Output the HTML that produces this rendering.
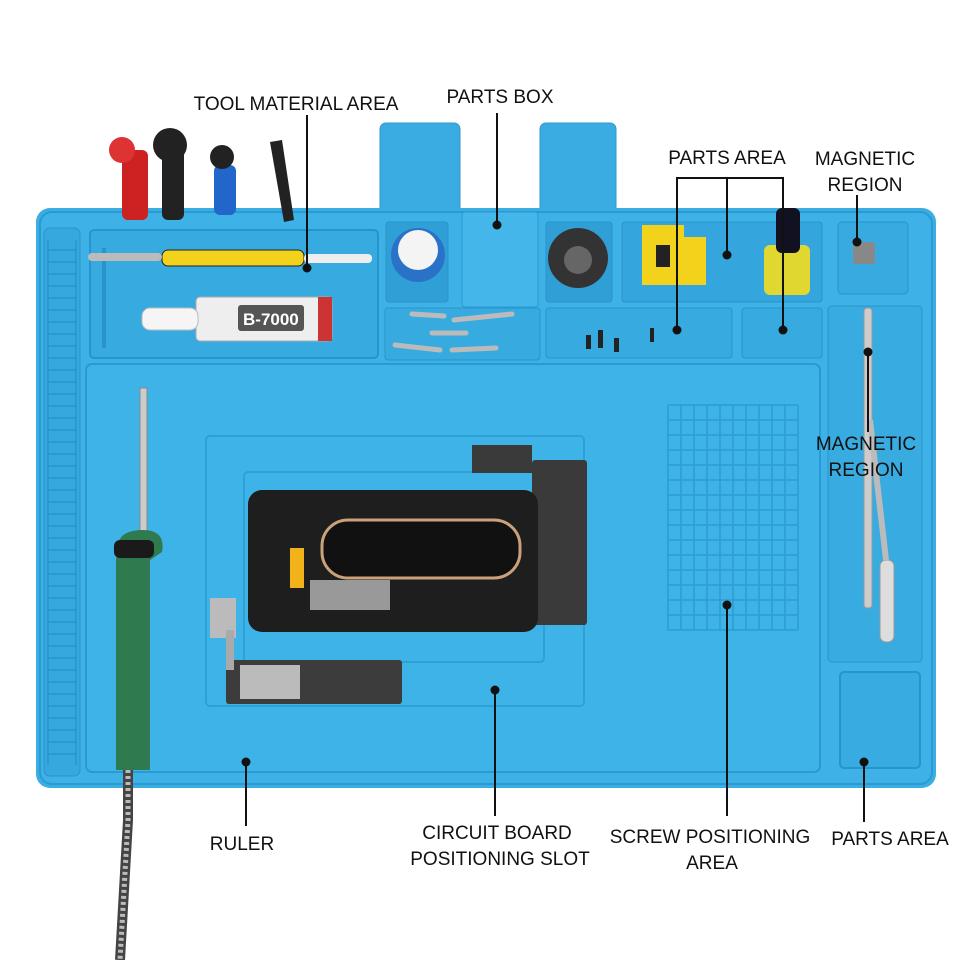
<!DOCTYPE html>
<html><head><meta charset="utf-8"><style>
html,body{margin:0;padding:0;background:#fff;}
svg{display:block;}
text{font-family:"Liberation Sans",sans-serif;font-size:19px;fill:#111;}
</style></head><body>
<svg width="960" height="960" viewBox="0 0 960 960" xmlns="http://www.w3.org/2000/svg">
<!-- parts box lids -->
<rect x="380" y="123" width="80" height="92" rx="6" fill="#3aace2" stroke="#2b98cf"/>
<rect x="540" y="123" width="76" height="92" rx="6" fill="#3aace2" stroke="#2b98cf"/>
<!-- mat -->
<rect x="36" y="208" width="900" height="580" rx="14" fill="#3aaee3"/>
<rect x="40" y="212" width="892" height="572" rx="12" fill="#3eb2e6" stroke="#2a9bd2" stroke-width="2"/>
<!-- ruler strip -->
<rect x="44" y="228" width="36" height="548" rx="6" fill="#36a8de" stroke="#2894cb"/>
<g stroke="#2894cb" stroke-width="1.5">
<line x1="48" y1="240" x2="48" y2="765"/><line x1="76" y1="240" x2="76" y2="765"/>
</g>
<g id="rl" stroke="#2894cb" stroke-width="1.5" fill="none">
<path d="M48 250h28M48 262h28M48 274h28M48 286h28M48 298h28M48 310h28M48 322h28M48 334h28M48 346h28M48 358h28M48 370h28M48 382h28M48 394h28M48 406h28M48 418h28M48 430h28M48 442h28M48 454h28M48 466h28M48 478h28M48 490h28M48 502h28M48 514h28M48 526h28M48 538h28M48 550h28M48 562h28M48 574h28M48 586h28M48 598h28M48 610h28M48 622h28M48 634h28M48 646h28M48 658h28M48 670h28M48 682h28M48 694h28M48 706h28M48 718h28M48 730h28M48 742h28M48 754h28"/>
</g>
<!-- top compartments -->
<rect x="90" y="230" width="288" height="128" rx="4" fill="#37aae0" stroke="#2894cb" stroke-width="2"/>
<rect x="386" y="222" width="62" height="80" rx="3" fill="#2f9fd6" stroke="#2894cb"/>
<rect x="462" y="212" width="76" height="95" rx="3" fill="#44b6ea" stroke="#2b9bd0"/>
<rect x="546" y="222" width="66" height="80" rx="3" fill="#2f9fd6" stroke="#2894cb"/>
<rect x="622" y="222" width="200" height="80" rx="3" fill="#34a6dd" stroke="#2894cb"/>
<rect x="838" y="222" width="70" height="72" rx="4" fill="#38aadf" stroke="#2894cb"/>
<rect x="385" y="308" width="155" height="52" rx="3" fill="#37aae0" stroke="#2894cb"/>
<rect x="546" y="308" width="186" height="50" rx="3" fill="#37aae0" stroke="#2894cb"/>
<rect x="742" y="308" width="80" height="50" rx="3" fill="#37aae0" stroke="#2894cb"/>
<!-- main area -->
<rect x="86" y="364" width="734" height="408" rx="6" fill="#3eb3e7" stroke="#2a9bd2" stroke-width="2"/>
<rect x="206" y="436" width="378" height="270" rx="4" fill="none" stroke="#2fa0d6" stroke-width="2"/>
<rect x="244" y="472" width="300" height="190" rx="4" fill="none" stroke="#2fa0d6" stroke-width="2"/>
<!-- grid -->
<g fill="none" stroke="#2d9dd3" stroke-width="1.5">
<path d="M668 405h130M668 420h130M668 435h130M668 450h130M668 465h130M668 480h130M668 495h130M668 510h130M668 525h130M668 540h130M668 555h130M668 570h130M668 585h130M668 600h130M668 615h130M668 630h130"/>
<path d="M668 405v225M681 405v225M694 405v225M707 405v225M720 405v225M733 405v225M746 405v225M759 405v225M772 405v225M785 405v225M798 405v225"/>
</g>
<!-- right column -->
<rect x="828" y="306" width="94" height="356" rx="4" fill="#38abe0" stroke="#2894cb"/>
<rect x="840" y="672" width="80" height="96" rx="4" fill="#38abe0" stroke="#2894cb" stroke-width="2"/>
<!-- tools in top -->
<rect x="102" y="248" width="4" height="100" fill="#2894cb"/>
<rect x="162" y="250" width="142" height="16" rx="6" fill="#f2d21a" stroke="#222"/>
<rect x="88" y="253" width="74" height="8" rx="4" fill="#bbb"/>
<rect x="304" y="254" width="68" height="9" rx="4" fill="#eee"/>
<rect x="196" y="297" width="136" height="44" rx="4" fill="#eee" stroke="#aaa"/>
<rect x="142" y="308" width="56" height="22" rx="8" fill="#f5f5f5" stroke="#bbb"/>
<rect x="238" y="305" width="66" height="26" rx="3" fill="#555"/>
<text x="243" y="325" style="fill:#fff;font-size:17px;font-weight:bold">B-7000</text>
<rect x="318" y="297" width="14" height="44" fill="#c33"/>
<!-- screwdrivers -->
<rect x="122" y="150" width="26" height="70" rx="6" fill="#c22"/>
<circle cx="122" cy="150" r="13" fill="#d33"/>
<rect x="162" y="150" width="22" height="70" rx="6" fill="#222"/>
<circle cx="170" cy="145" r="17" fill="#222"/>
<rect x="214" y="165" width="22" height="50" rx="6" fill="#2266cc"/>
<circle cx="222" cy="157" r="12" fill="#222"/>
<path d="M270 142 L282 140 L294 220 L284 222 Z" fill="#222"/>
<!-- jars -->
<circle cx="418" cy="255" r="27" fill="#2a72c7"/><circle cx="418" cy="250" r="20" fill="#f4f4f4"/>
<circle cx="578" cy="258" r="30" fill="#333"/><circle cx="578" cy="260" r="14" fill="#666"/>
<path d="M642 225h42v12h-14v36h14v12h-42z M670 237h36v48h-36z" fill="#f2d21a"/>
<rect x="656" y="245" width="14" height="22" fill="#222"/>
<rect x="764" y="245" width="46" height="50" rx="6" fill="#e0d830"/>
<rect x="776" y="208" width="24" height="45" rx="6" fill="#112"/>
<rect x="853" y="242" width="22" height="22" rx="3" fill="#888"/>
<!-- screws/bits -->
<g stroke="#bbb" stroke-width="5" stroke-linecap="round">
<line x1="412" y1="314" x2="444" y2="316"/><line x1="454" y1="320" x2="512" y2="314"/>
<line x1="432" y1="333" x2="466" y2="333"/><line x1="395" y1="345" x2="440" y2="350"/><line x1="452" y1="350" x2="496" y2="348"/>
</g>
<g fill="#222"><rect x="586" y="335" width="5" height="14"/><rect x="598" y="330" width="5" height="18"/><rect x="614" y="338" width="5" height="14"/><rect x="650" y="328" width="4" height="14"/></g>
<!-- spatula -->
<rect x="864" y="308" width="8" height="300" rx="3" fill="#ccc" stroke="#999"/>
<rect x="880" y="560" width="14" height="82" rx="6" fill="#ddd" stroke="#999"/>
<line x1="870" y1="420" x2="886" y2="560" stroke="#bbb" stroke-width="6"/>
<!-- phone boards -->
<rect x="472" y="445" width="60" height="28" fill="#3a3a3a"/>
<rect x="532" y="460" width="55" height="165" rx="3" fill="#3a3a3a"/>
<rect x="248" y="490" width="290" height="142" rx="14" fill="#1e1e1e"/>
<rect x="322" y="520" width="198" height="58" rx="26" fill="#111" stroke="#c9a17a" stroke-width="3"/>
<rect x="310" y="580" width="80" height="30" fill="#999"/>
<rect x="290" y="548" width="14" height="40" fill="#f2b21a"/>
<rect x="210" y="598" width="26" height="40" fill="#bbb"/>
<rect x="226" y="660" width="176" height="44" rx="3" fill="#3c3c3c"/>
<rect x="240" y="665" width="60" height="34" fill="#bbb"/>
<rect x="226" y="630" width="8" height="40" fill="#aaa"/>
<!-- soldering iron -->
<rect x="140" y="388" width="7" height="150" fill="#ccc" stroke="#888"/>
<path d="M118 545 Q120 530 143 530 Q166 530 162 552 L150 560 L150 770 L116 770 L116 560 Z" fill="#2f7a4e"/>
<rect x="114" y="540" width="40" height="18" rx="6" fill="#1a1a1a"/>
<path d="M128 770 L128 820 L120 960" stroke="#444" stroke-width="10" fill="none"/>
<path d="M128 770 L128 820 L120 960" stroke="#bbb" stroke-width="5" stroke-dasharray="3 3" fill="none"/>
<!-- leader lines -->
<g stroke="#111" stroke-width="2" fill="none">
<line x1="307" y1="115" x2="307" y2="268"/>
<line x1="497" y1="113" x2="497" y2="225"/>
<path d="M677 330 V178 H783 V330 M727 178 V255"/>
<line x1="857" y1="195" x2="857" y2="242"/>
<line x1="868" y1="352" x2="868" y2="432"/>
<line x1="246" y1="762" x2="246" y2="826"/>
<line x1="495" y1="690" x2="495" y2="816"/>
<line x1="727" y1="605" x2="727" y2="816"/>
<line x1="864" y1="762" x2="864" y2="822"/>
</g>
<g fill="#111">
<circle cx="307" cy="268" r="4.5"/><circle cx="497" cy="225" r="4.5"/><circle cx="727" cy="255" r="4.5"/>
<circle cx="677" cy="330" r="4.5"/><circle cx="783" cy="330" r="4.5"/><circle cx="857" cy="242" r="4.5"/>
<circle cx="868" cy="352" r="4.5"/><circle cx="246" cy="762" r="4.5"/><circle cx="495" cy="690" r="4.5"/>
<circle cx="727" cy="605" r="4.5"/><circle cx="864" cy="762" r="4.5"/>
</g>
<!-- labels -->
<g text-anchor="middle">
<text x="296" y="110">TOOL MATERIAL AREA</text>
<text x="500" y="103">PARTS BOX</text>
<text x="727" y="164">PARTS AREA</text>
<text x="865" y="165">MAGNETIC</text><text x="865" y="191">REGION</text>
<text x="866" y="450">MAGNETIC</text><text x="866" y="476">REGION</text>
<text x="242" y="850">RULER</text>
<text x="497" y="839">CIRCUIT BOARD</text><text x="500" y="865">POSITIONING SLOT</text>
<text x="710" y="843">SCREW POSITIONING</text><text x="712" y="869">AREA</text>
<text x="890" y="845">PARTS AREA</text>
</g>
</svg>
</body></html>
